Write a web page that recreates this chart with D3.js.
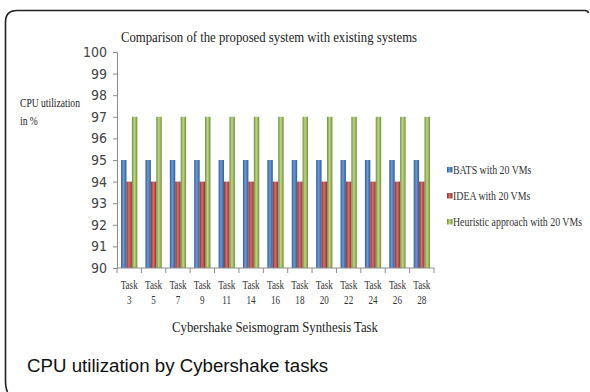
<!DOCTYPE html>
<html>
<head>
<meta charset="utf-8">
<script src="https://cdn.jsdelivr.net/npm/d3@7"></script>
<style>
  html, body { margin: 0; padding: 0; background: #fff; }
  svg { display: block; }
</style>
</head>
<body>
<svg id="chart" width="590" height="392"></svg>
<script>
// Cybershake tasks and CPU utilization (%) per approach
const tasks = ["3", "5", "7", "9", "11", "14", "16", "18", "20", "22", "24", "26", "28"];
const batsValues = [95, 95, 95, 95, 95, 95, 95, 95, 95, 95, 95, 95, 95];
const ideaValues = [94, 94, 94, 94, 94, 94, 94, 94, 94, 94, 94, 94, 94];
const heuristicValues = [97, 97, 97, 97, 97, 97, 97, 97, 97, 97, 97, 97, 97];
const seriesNames = ["BATS with 20 VMs", "IDEA with 20 VMs", "Heuristic approach with 20 VMs"];
const yTicks = [90, 91, 92, 93, 94, 95, 96, 97, 98, 99, 100];

const series = [
  { name: seriesNames[0], values: batsValues, key: "blue", base: "#4a7ebf", dark: "#2d5c97", light: "#6f9ad4" },
  { name: seriesNames[1], values: ideaValues, key: "red", base: "#c0504d", dark: "#922f2c", light: "#d46e6b" },
  { name: seriesNames[2], values: heuristicValues, key: "green", base: "#9bbb59", dark: "#6f8d36", light: "#bcd68a" }
];

const svg = d3.select("#chart");
const serif = "'Liberation Serif', 'Times New Roman', serif";
const sans = "'Liberation Sans', Arial, sans-serif";

// Frame with a rounded top-left corner
svg.append("path")
  .attr("d", "M7.5,392 Q5.5,388 5.5,380 L5.5,22 Q5.5,10.5 17,10.5 L585,10.5 Q588,10.5 588.5,13")
  .attr("fill", "none").attr("stroke", "#222").attr("stroke-width", 1.6);

// Gradients giving the bars a rounded, shaded look
const defs = svg.append("defs");
series.forEach(s => {
  const g = defs.append("linearGradient").attr("id", "grad-" + s.key)
    .attr("x1", "0").attr("x2", "1").attr("y1", "0").attr("y2", "0");
  g.append("stop").attr("offset", "0%").attr("stop-color", s.dark);
  g.append("stop").attr("offset", "45%").attr("stop-color", s.light);
  g.append("stop").attr("offset", "70%").attr("stop-color", s.base);
  g.append("stop").attr("offset", "100%").attr("stop-color", s.dark);
});

const plot = { left: 117, right: 434, top: 52, bottom: 268 };

const x = d3.scaleBand().domain(tasks).range([plot.left, plot.right]).paddingInner(0).paddingOuter(0);
// Three bars per task with a gap of 1.5 bar widths between groups
const inner = d3.scaleBand().domain(series.map(s => s.key))
  .range([0, x.bandwidth()]).paddingInner(0).paddingOuter(0.75);
const y = d3.scaleLinear().domain([90, 100]).range([plot.bottom, plot.top]);

// Bars
series.forEach(s => {
  svg.append("g").selectAll("rect").data(s.values).join("rect")
    .attr("x", (d, i) => x(tasks[i]) + inner(s.key))
    .attr("y", d => y(d))
    .attr("width", inner.bandwidth())
    .attr("height", d => y(90) - y(d))
    .attr("fill", "url(#grad-" + s.key + ")");
});

// Y axis
const yAxis = svg.append("g").attr("transform", `translate(${plot.left},0)`)
  .call(d3.axisLeft(y).tickValues(yTicks).tickSize(4).tickPadding(6).tickFormat(d3.format("d")));
yAxis.select(".domain").attr("stroke", "#8c8c8c");
yAxis.selectAll(".tick line").attr("stroke", "#8c8c8c");
yAxis.selectAll(".tick text")
  .attr("font-family", "'Liberation Sans Narrow', 'DejaVu Sans Condensed', sans-serif")
  .attr("font-size", 14).attr("fill", "#444");

// X axis: ticks at category boundaries
const xAxisG = svg.append("g").attr("transform", `translate(0,${plot.bottom})`);
xAxisG.append("line").attr("x1", plot.left).attr("x2", plot.right)
  .attr("stroke", "#8c8c8c");
const bounds = tasks.map(t => x(t)).concat([plot.right]);
xAxisG.selectAll("line.tk").data(bounds).join("line").attr("class", "tk")
  .attr("x1", d => d).attr("x2", d => d).attr("y1", 0).attr("y2", 5)
  .attr("stroke", "#8c8c8c");

const xLab = svg.append("g").selectAll("g").data(tasks).join("g")
  .attr("transform", d => `translate(${x(d) + x.bandwidth() / 2},0)`);
xLab.append("text").attr("y", 289).text("Task");
xLab.append("text").attr("y", 304).text(d => d);
xLab.selectAll("text")
  .attr("font-family", serif).attr("font-size", 13).attr("fill", "#333")
  .attr("text-anchor", "middle")
  .attr("transform", "scale(0.7,1)");

// Squeezed serif text helper
function label(txt, cx, yb, size, squeeze, anchor) {
  return svg.append("text")
    .attr("transform", `translate(${cx},${yb}) scale(${squeeze},1)`)
    .attr("font-family", serif).attr("font-size", size).attr("fill", "#222")
    .attr("text-anchor", anchor || "middle").text(txt);
}

label("Comparison of the proposed system with existing systems", 269, 42, 15, 0.85);
label("Cybershake Seismogram Synthesis Task", 275, 332, 15, 0.85);
label("CPU utilization", 20, 107, 12, 0.8, "start");
label("in %", 20, 125, 12, 0.8, "start");

// Legend
const legend = svg.append("g").selectAll("g").data(series).join("g")
  .attr("transform", (d, i) => `translate(447,${170 + i * 26})`);
legend.append("rect").attr("x", 0).attr("y", -3).attr("width", 5.5).attr("height", 5.5)
  .attr("fill", d => `url(#grad-${d.key})`);
legend.append("text").attr("transform", "translate(6,4) scale(0.79,1)")
  .attr("font-family", serif).attr("font-size", 12.5).attr("fill", "#333")
  .text(d => d.name);

// Caption
svg.append("text")
  .attr("x", 27).attr("y", 372)
  .attr("font-family", sans).attr("font-size", 18.7).attr("fill", "#111")
  .text("CPU utilization by Cybershake tasks");
</script>
</body>
</html>
